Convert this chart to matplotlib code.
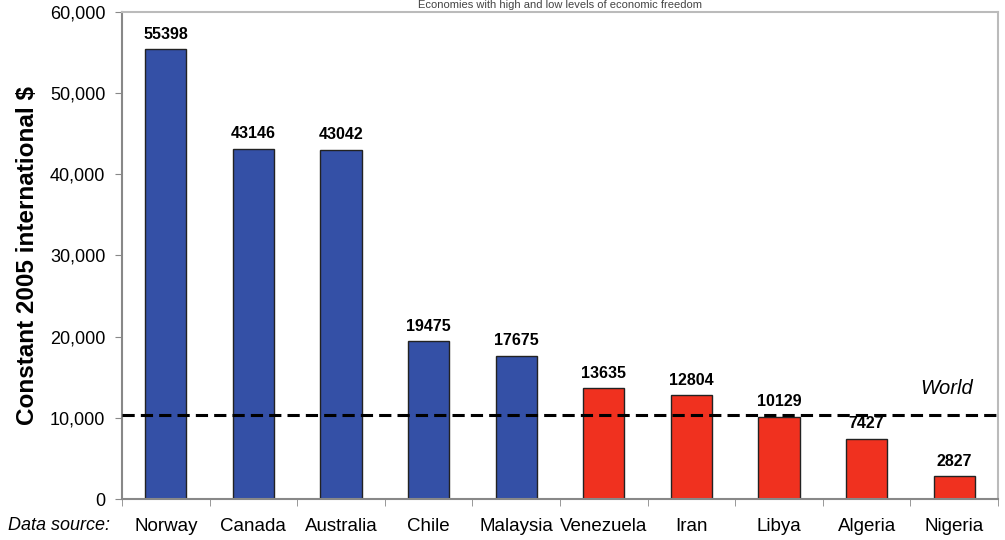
import matplotlib
matplotlib.use("Agg")
import matplotlib.pyplot as plt
import numpy as np

countries = ["Norway", "Canada", "Australia", "Chile", "Malaysia",
             "Venezuela", "Iran", "Libya", "Algeria", "Nigeria"]
gdp = [55398, 43146, 43042, 19475, 17675, 13635, 12804, 10129, 7427, 2827]
free_group = ["high", "high", "high", "high", "high",
              "low", "low", "low", "low", "low"]
world = 10300

colors = {"high": "#3450a6", "low": "#f0311f"}

plt.rcParams['font.family'] = ['Liberation Sans', 'DejaVu Sans']

fig = plt.figure(figsize=(10.05, 5.4), dpi=100)
ax = fig.add_axes([122 / 1005, 41 / 540, 876 / 1005, 487 / 540])

x = np.arange(len(countries))
bars = ax.bar(x, gdp, width=0.47, color=[colors[g] for g in free_group],
              edgecolor="#222222", linewidth=1.0, zorder=2)
for xi, v in zip(x, gdp):
    ax.text(xi, v + 900, str(v), ha="center", va="bottom",
            fontsize=11.5, fontweight="bold")

ax.axhline(world, color="black", linestyle=(0, (4, 2)), linewidth=2.2, zorder=3)
ax.text(9.21, world + 2200, "World", ha="right", va="bottom",
        fontsize=14.5, style="italic")

ax.set_xlim(-0.5, 9.5)
ax.set_ylim(0, 60000)
ax.set_yticks(range(0, 60001, 10000))
ax.set_yticklabels([f"{v:,}" for v in range(0, 60001, 10000)], fontsize=13)
ax.set_xticks(x)
ax.set_xticklabels(countries, fontsize=13.5)
ax.set_xticks(np.arange(-0.5, 10, 1), minor=True)
ax.tick_params(axis="x", which="major", length=0, pad=14)
ax.tick_params(axis="x", which="minor", length=5, color="#888888")
ax.tick_params(axis="y", length=5, color="#888888", pad=7)

for s in ["top", "right"]:
    ax.spines[s].set_color("#bbbbbb")
for s in ["left", "bottom"]:
    ax.spines[s].set_color("#888888")
for s in ax.spines.values():
    s.set_linewidth(1.5)

ax.set_ylabel("Constant 2005 international $", fontsize=17.5,
              fontweight="bold", labelpad=8)

fig.text(8 / 1005, 1 - 525 / 540, "Data source:", fontsize=13,
         style="italic", va="center", ha="left")
fig.text(560 / 1005, 1.0, "Economies with high and low levels of economic freedom",
         fontsize=8, ha="center", va="top", color="#444444")

fig.savefig("out.png", dpi=100)
